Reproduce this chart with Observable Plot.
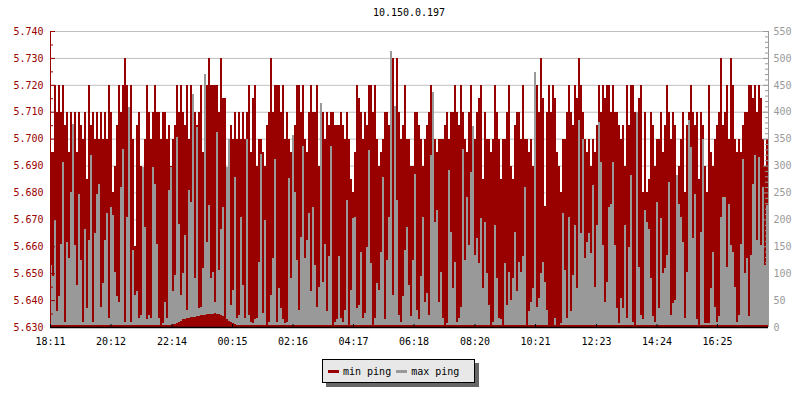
<!DOCTYPE html>
<html>
<head>
<meta charset="utf-8">
<script src="https://cdn.jsdelivr.net/npm/d3@7"></script>
<script src="https://cdn.jsdelivr.net/npm/@observablehq/plot@0.6"></script>
<style>
  body { margin: 0; background: #fff; }
  #wrap { position: relative; width: 800px; height: 400px; font-family: "DejaVu Sans Mono", monospace; }
  #title { position: absolute; left: 0; top: 7px; width: 818px; text-align: center; font-size: 10px; color: #000; }
  #legend { position: absolute; left: 322px; top: 359px; width: 151px; height: 22px; background: #e8e8e8;
            border: 1px solid #000; box-shadow: 4px 4px 0 #666; display: flex; align-items: center;
            font-size: 10px; color: #000; }
  .sw { display: inline-block; width: 11px; height: 3px; margin: 0 4px 0 5px; }
  #plot { position: absolute; left: 0; top: 0; }
</style>
</head>
<body>
<div id="wrap">
  <div id="plot"></div>
  <div id="title"></div>
  <div id="legend"></div>
</div>
<script>
const chartTitle = "10.150.0.197";
const seriesNames = ["min ping", "max ping"];
const seriesColors = ["#990000", "#999999"];
const timeTickLabels = ["18:11","20:12","22:14","00:15","02:16","04:17","06:18","08:20","10:21","12:23","14:24","16:25"];
const leftTickLabels = ["5.630","5.640","5.650","5.660","5.670","5.680","5.690","5.700","5.710","5.720","5.730","5.740"];
const rightTickLabels = ["0","50","100","150","200","250","300","350","400","450","500","550"];
const sampleMinutes = 4;

// min ping (left axis), one value per 4-minute sample
const minPing = [
 5.695,5.695,5.72,5.71,5.72,5.71,5.72,5.705,5.71,5.695,
 5.71,5.68,5.71,5.695,5.71,5.705,5.70,5.71,5.685,5.72,
 5.705,5.71,5.70,5.71,5.70,5.71,5.70,5.71,5.70,5.72,
 5.71,5.68,5.69,5.705,5.72,5.71,5.72,5.73,5.72,5.71,
 5.72,5.70,5.66,5.705,5.71,5.69,5.675,5.70,5.72,5.71,
 5.70,5.71,5.72,5.71,5.71,5.70,5.71,5.71,5.70,5.705,
 5.69,5.70,5.705,5.72,5.71,5.72,5.71,5.705,5.72,5.70,
 5.72,5.705,
 5.71,5.705,5.71,5.72,5.695,5.71,5.72,5.73,5.72,5.72,
 5.72,5.72,5.71,5.73,5.715,5.715,5.68,5.69,5.705,5.70,
 5.71,5.70,5.71,5.70,5.71,5.70,5.71,5.72,5.695,5.715,
 5.72,5.69,5.70,5.70,5.695,5.69,5.705,5.71,5.73,5.71,
 5.72,5.72,5.72,5.71,5.72,5.70,5.71,5.70,5.695,5.70,
 5.705,5.72,5.72,5.71,5.72,5.70,5.695,5.71,5.72,5.71,
 5.71,5.72,5.69,5.70,5.71,5.70,5.71,5.705,5.71,5.71,
 5.705,5.705,
 5.705,5.71,5.705,5.70,5.71,5.70,5.685,5.68,5.695,5.72,
 5.715,5.71,5.70,5.71,5.705,5.72,5.72,5.71,5.72,5.70,
 5.69,5.695,5.70,5.71,5.71,5.705,5.72,5.73,5.71,5.73,
 5.71,5.70,5.705,5.72,5.70,5.70,5.69,5.69,5.71,5.71,
 5.705,5.70,5.69,5.70,5.705,5.71,5.72,5.71,5.70,5.695,
 5.70,5.70,5.70,5.705,5.71,5.70,5.71,5.71,5.72,5.71,
 5.705,5.72,5.71,5.70,5.695,5.71,5.72,5.70,5.70,5.71,
 5.715,5.72,
 5.685,5.71,5.70,5.70,5.695,5.70,5.72,5.71,5.70,5.685,
 5.70,5.70,5.71,5.72,5.69,5.685,5.705,5.71,5.71,5.70,
 5.72,5.70,5.70,5.695,5.70,5.69,5.705,5.72,5.71,5.73,
 5.715,5.675,5.71,5.72,5.71,5.72,5.715,5.695,5.69,5.68,
 5.70,5.70,5.71,5.72,5.71,5.705,5.72,5.715,5.73,5.72,
 5.71,5.70,5.695,5.70,5.69,5.70,5.695,5.705,5.72,5.71,
 5.72,5.715,5.72,5.72,5.71,5.72,5.71,5.71,5.705,5.70,
 5.705,5.69,
 5.72,5.705,5.72,5.72,5.71,5.695,5.715,5.72,5.68,5.71,
 5.68,5.685,5.71,5.705,5.69,5.70,5.70,5.71,5.695,5.705,
 5.72,5.71,5.70,5.71,5.705,5.67,5.69,5.70,5.71,5.68,
 5.705,5.71,5.72,5.71,5.705,5.71,5.685,5.71,5.705,5.69,
 5.68,5.72,5.695,5.69,5.70,5.705,5.71,5.73,5.705,5.71,
 5.72,5.70,5.73,5.72,5.70,5.695,5.70,5.695,5.705,5.71,
 5.71,5.72,5.72,5.715,5.72,5.71,5.72,5.715,5.70,5.69,
 5.70
];

// max ping (right axis), same samples
const maxPing = [
 115,95,198,29,58,155,306,10,158,128,
 251,377,152,78,248,124,10,183,35,161,
 319,10,174,248,266,38,81,161,211,17,
 223,208,103,57,47,260,331,10,205,408,
 10,143,60,66,17,23,297,186,14,23,
 17,297,266,155,17,4,7,47,17,254,
 297,66,97,353,191,60,100,171,32,254,
 232,433,
 91,371,35,38,109,470,158,226,91,103,
 47,362,106,183,223,17,297,350,41,69,
 279,17,23,205,78,17,350,23,10,7,
 14,17,121,322,26,198,4,10,60,128,
 313,10,72,35,14,7,10,276,91,356,
 251,124,32,168,337,128,161,211,66,223,
 115,38,75,417,84,155,29,131,337,4,
 10,14,
 131,17,10,32,236,4,69,202,205,35,
 41,140,17,26,149,328,118,4,17,81,
 69,140,279,14,124,205,513,60,411,236,
 23,10,57,143,186,78,20,124,285,32,
 14,94,205,47,63,23,319,436,195,217,
 47,103,17,4,7,291,177,72,121,10,
 17,38,331,124,242,152,288,374,134,165,
 118,202,
 72,195,100,41,4,10,189,91,17,14,
 4,118,41,103,50,91,177,66,121,103,
 131,260,1,29,47,72,473,38,54,100,
 121,84,32,1,4,4,17,1,4,7,
 211,106,17,205,29,97,189,72,384,174,
 350,128,158,174,137,263,75,189,380,306,
 152,47,84,223,229,306,152,35,7,54,
 35,189,
 17,149,282,10,4,399,112,23,14,217,
 195,183,91,20,10,232,35,202,100,109,
 134,269,23,44,50,282,229,205,158,17,
 103,384,334,165,248,14,4,177,350,7,
 7,7,72,140,38,10,20,205,242,242,
 112,229,152,140,75,10,23,155,313,100,
 128,20,134,266,319,161,316,152,260,115,
 226
];

// lower end of the max-ping bars (red shows below it)
const maxBaseDefault = 4;
const maxBaseStart = 60;
const maxBase = [4,5,6,8,10,12,14,15,16,17,18,18,19,20,21,22,22,23,24,24,25,25,26,25,24,22,20,17,14,11,9,7,5,4];

// ---- build ----
const N = minPing.length;
const barPx = 2;
const W = 800, H = 400, mL = 50, mT = 31, mB = 73;
const plotW = N * barPx, mR = W - mL - plotW, plotH = H - mT - mB;
const red = seriesColors[0], gray = seriesColors[1];

const t0 = (() => { const [h, m] = timeTickLabels[0].split(":").map(Number); return new Date(2020, 0, 1, h, m); })();
const stepMs = sampleMinutes * 60 * 1000;
const tAt = i => new Date(+t0 + i * stepMs);
const tEnd = tAt(N);

const tickDates = timeTickLabels.map(s => {
  const [h, m] = s.split(":").map(Number);
  const d = new Date(2020, 0, 1, h, m);
  if (d < t0) d.setDate(2);
  return d;
});
const tickLabelByTime = new Map(tickDates.map((d, i) => [+d, timeTickLabels[i]]));

const leftVals = leftTickLabels.map(Number);
const yMin = leftVals[0], yMax = leftVals[leftVals.length - 1];
const rightVals = rightTickLabels.map(Number);
const rMax = rightVals[rightVals.length - 1];
const rStep = rightVals[1] - rightVals[0];
const toLeft = v => yMin + v * (yMax - yMin) / rMax;
const fromLeft = y => Math.round((y - yMin) * rMax / (yMax - yMin));
const leftMinor = leftVals.slice(1).map((v, i) => (v + leftVals[i]) / 2);
const rightMinor = d3.range(0, rMax + 1, rStep / 5).filter(v => v % rStep !== 0);
const baseAt = i => (i >= maxBaseStart && i < maxBaseStart + maxBase.length) ? maxBase[i - maxBaseStart] : maxBaseDefault;

const grayData = maxPing.map((v, i) => ({i, v, b: baseAt(i)})).filter(d => d.v > d.b);
const redData = minPing.map((v, i) => ({i, v}));

const chart = Plot.plot({
  width: W, height: H,
  marginLeft: mL, marginRight: mR, marginTop: mT, marginBottom: mB,
  style: {fontFamily: "DejaVu Sans Mono, monospace", fontSize: "10px", background: "transparent", overflow: "visible"},
  x: {type: "time", domain: [t0, tEnd], axis: null},
  y: {domain: [yMin, yMax], axis: null},
  marks: [
    Plot.ruleY(leftVals, {stroke: "#c0c0c0", strokeWidth: 1}),
    Plot.rect(redData, {x1: d => tAt(d.i), x2: d => tAt(d.i + 1), y1: yMin, y2: d => d.v,
      fill: red, shapeRendering: "crispEdges"}),
    Plot.rect(grayData, {x1: d => tAt(d.i), x2: d => tAt(d.i + 1), y1: d => toLeft(d.b), y2: d => toLeft(d.v),
      fill: gray, shapeRendering: "crispEdges"}),
    // left axis
    Plot.ruleX([t0], {stroke: red, strokeWidth: 1}),
    Plot.tickY(leftVals, {y: d => d, stroke: red, insetRight: plotW - 5}),
    Plot.tickY(leftMinor, {y: d => d, stroke: red, insetRight: plotW - 3}),
    Plot.axisY(leftVals, {anchor: "left", tickSize: 0, tickPadding: 7, tickFormat: d3.format(".3f"), color: red}),
    // right axis
    Plot.ruleX([tEnd], {stroke: gray, strokeWidth: 1}),
    Plot.tickY(rightVals.map(toLeft), {y: d => d, stroke: gray, insetLeft: plotW - 5}),
    Plot.tickY(rightMinor.map(toLeft), {y: d => d, stroke: gray, insetLeft: plotW - 3}),
    Plot.axisY(rightVals.map(toLeft), {anchor: "right", tickSize: 0, tickPadding: 5, tickFormat: d => String(fromLeft(d)), color: gray}),
    // bottom axis
    Plot.ruleY([yMin], {stroke: "#000", strokeWidth: 1.5}),
    Plot.tickX(tickDates, {x: d => d, stroke: "#000", insetTop: plotH - 3}),
    Plot.axisX(tickDates, {anchor: "bottom", tickSize: 0, tickPadding: 10, tickFormat: d => tickLabelByTime.get(+d), color: "#000"})
  ]
});
document.getElementById("plot").appendChild(chart);

document.getElementById("title").textContent = chartTitle;
const legend = document.getElementById("legend");
seriesNames.forEach((name, k) => {
  const sw = document.createElement("span");
  sw.className = "sw";
  sw.style.background = seriesColors[k];
  const tx = document.createElement("span");
  tx.textContent = name;
  legend.appendChild(sw);
  legend.appendChild(tx);
});
</script>
</body>
</html>
